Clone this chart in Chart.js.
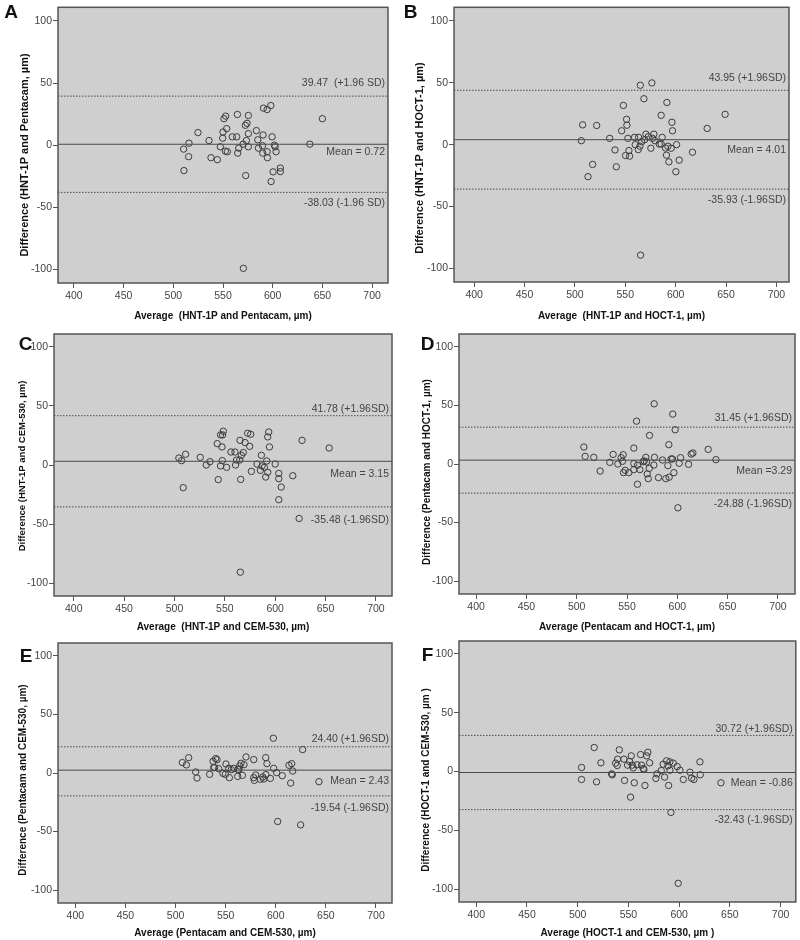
<!DOCTYPE html>
<html>
<head>
<meta charset="utf-8">
<script src="https://cdn.jsdelivr.net/npm/chart.js@4.4.1/dist/chart.umd.min.js"></script>
<style>
    body { margin: 0; background: #fff; width: 800px; height: 940px; position: relative; overflow: hidden; }
    .cell { position: absolute; }
    .cell canvas { display: block; }
</style>
</head>
<body>
<script>
const xTicks = [400, 450, 500, 550, 600, 650, 700];
const yTicks = [-100, -50, 0, 50, 100];

// A: HNT-1P vs Pentacam
const avgA = [510.4, 510.7, 515.4, 515.8, 524.8, 535.9, 537.9, 544.3, 547.3, 549.7,
    550.0, 551.0, 552.7, 553.7, 552.4, 554.4, 559.4, 563.8, 564.5, 564.8,
    565.8, 570.2, 572.5, 572.8, 573.5, 574.2, 575.5, 575.5, 575.5, 570.5,
    583.6, 585.0, 585.6, 589.7, 590.0, 590.3, 590.7, 594.4, 598.1, 594.4,
    594.7, 598.4, 599.4, 600.4, 601.7, 602.4, 603.4, 607.7, 607.7, 637.3, 650.0];
const diffA = [-3.2, -20.5, -9.3, 1.6, 10.1, 3.7, -10.1, -11.7, -1.3, 5.6,
    10.6, 21.3, 23.4, 13.3, -4.8, -5.3, 6.7, 6.7, 24.7, -6.4,
    -2.4, 0.8, 16.0, -24.5, 3.7, 17.6, 23.9, 9.3, -1.3, -99.2,
    11.7, 4.3, -2.4, -0.5, -6.4, 8.2, 29.8, 28.7, 31.9, -5.3,
    -10.1, -29.3, 6.7, -21.5, 0.0, -1.3, -5.3, -18.4, -21.3, 0.8, 21.3];
const levelsA = [0.72, 39.47, -38.03];
const notesA = ['Mean = 0.72', '39.47  (+1.96 SD)', '-38.03 (-1.96 SD)'];

// B: HNT-1P vs HOCT-1
const avgB = [506.4, 507.7, 513.0, 517.6, 521.6, 534.5, 539.8, 541.1, 546.4, 548.1,
    550.3, 551.3, 551.6, 552.6, 553.6, 554.3, 559.2, 559.9, 562.9, 563.2,
    564.5, 564.9, 566.2, 568.5, 569.2, 570.5, 572.8, 575.4, 576.4, 577.0,
    578.4, 579.4, 583.7, 585.6, 586.6, 589.9, 590.9, 591.3, 592.3, 593.3,
    596.3, 596.9, 595.6, 600.2, 600.9, 603.5, 616.7, 631.3, 649.1, 565.2, 585.6];
const diffB = [3.2, 16.0, -25.9, -16.0, 15.5, 5.1, -4.3, -17.9, 11.2, 31.7,
    -8.8, 20.5, 15.7, 5.1, -4.8, -9.3, 5.9, 0.0, -4.0, 5.9,
    -1.3, 48.0, 2.4, 37.1, 4.0, 8.5, 6.4, -2.9, 49.9, 5.1,
    8.5, 3.2, 0.5, 23.7, 5.9, -2.7, -8.5, 34.1, -1.3, -13.9,
    18.1, 11.2, -2.9, -21.9, 0.0, -12.5, -6.1, 13.1, 24.5, -89.3, 0.5];
const levelsB = [4.01, 43.95, -35.93];
const notesB = ['Mean = 4.01', '43.95 (+1.96SD)', '-35.93 (-1.96SD)'];

// C: HNT-1P vs CEM-530
const avgC = [504.4, 507.1, 511.1, 508.7, 525.6, 531.6, 535.3, 542.5, 543.5, 545.8,
    547.2, 547.8, 548.5, 545.8, 547.5, 551.8, 556.1, 560.1, 560.7, 561.7,
    565.1, 564.8, 565.8, 566.4, 568.4, 570.1, 572.7, 574.7, 575.7, 576.4,
    582.0, 586.3, 587.0, 585.3, 589.3, 590.6, 591.6, 592.6, 593.6, 594.3,
    592.6, 600.0, 603.6, 603.6, 603.6, 606.0, 617.5, 623.8, 626.7, 653.6, 565.4];
const diffC = [5.9, 3.7, 9.1, -19.2, 6.5, 0.0, 2.8, 18.1, -12.4, 25.5,
    15.3, 25.5, 28.6, -0.8, 3.7, -2.0, 11.0, 11.0, 0.0, 4.2,
    20.9, 4.2, -12.2, 8.2, 10.5, 19.0, 26.9, 15.8, 26.0, -5.4,
    0.8, 8.2, -0.8, -4.5, -2.0, -10.2, 3.4, 23.8, 28.0, 15.3,
    -6.2, 0.8, -7.1, -11.6, -29.4, -18.7, -9.1, -45.3, 20.9, 14.4, -90.8];
const levelsC = [3.15, 41.78, -35.48];
const notesC = ['Mean = 3.15', '41.78 (+1.96SD)', '-35.48 (-1.96SD)'];

// D: Pentacam vs HOCT-1
const avgD = [507.1, 508.4, 517.0, 523.3, 532.9, 536.2, 540.9, 544.2, 545.5, 546.2,
    546.5, 548.2, 551.8, 556.8, 556.8, 556.8, 559.5, 560.4, 560.4, 562.8,
    566.1, 568.7, 569.4, 570.1, 571.1, 572.1, 572.4, 576.7, 577.3, 577.0,
    581.3, 585.3, 588.6, 590.6, 591.6, 591.9, 593.9, 595.2, 595.5, 596.6,
    597.9, 600.6, 601.9, 603.2, 611.2, 613.8, 615.5, 630.7, 638.4, 567.1];
const diffD = [14.5, 6.5, 5.7, -6.0, 1.4, 8.2, 0.0, 5.4, 2.3, 7.9,
    -7.4, -5.4, -7.4, 13.6, 0.3, -4.8, 36.6, -1.1, -17.3, -4.8,
    2.0, 5.7, 1.7, -8.5, -12.5, -3.7, 24.4, -0.9, 5.7, 51.4,
    -11.6, 3.4, -12.5, -1.4, 16.5, -11.3, 4.3, 4.3, 42.6, -7.4,
    29.2, -37.4, 0.6, 5.4, -0.3, 8.5, 9.4, 12.5, 3.7, 2.6];
const levelsD = [3.29, 31.45, -24.88];
const notesD = ['Mean =3.29', '31.45 (+1.96SD)', '-24.88 (-1.96SD)'];

// E: Pentacam vs CEM-530
const avgE = [506.8, 510.8, 513.1, 520.1, 521.4, 534.0, 537.4, 538.0, 539.0, 540.0,
    541.4, 543.0, 547.3, 549.7, 550.3, 553.0, 553.7, 555.7, 558.0, 562.0,
    562.3, 563.3, 564.0, 565.3, 566.7, 568.3, 570.3, 578.0, 578.0, 578.6,
    580.0, 584.6, 587.0, 588.0, 590.0, 590.2, 591.2, 594.6, 597.6, 597.9,
    600.9, 601.9, 606.5, 613.2, 615.9, 614.9, 616.9, 624.8, 626.8, 643.1];
const diffE = [8.9, 6.9, 13.1, 0.9, -4.3, -1.1, 10.0, 4.6, 4.6, 12.3,
    11.4, 3.7, -0.3, -1.1, 7.7, 4.0, -4.0, 2.9, 4.0, -2.9,
    3.1, 2.9, 6.0, 8.3, -2.0, 7.1, 13.7, 11.4, -4.0, -6.3,
    -1.7, -5.4, -3.4, -5.1, 13.1, -1.4, 8.0, -4.6, 29.7, 4.0,
    0.3, -41.4, -2.3, 6.6, 8.0, -8.6, 1.7, -44.3, 20.0, -7.4];
const levelsE = [2.43, 22.4, -19.54];
const notesE = ['Mean = 2.43', '24.40 (+1.96SD)', '-19.54 (-1.96SD)'];

// F: HOCT-1 vs CEM-530
const avgF = [503.8, 503.8, 516.3, 518.6, 522.9, 533.4, 534.1, 537.4, 539.0, 539.3,
    541.0, 545.6, 546.2, 549.2, 551.2, 552.1, 552.8, 553.8, 554.8, 555.8,
    558.4, 562.0, 563.0, 564.6, 565.3, 566.3, 568.0, 569.2, 570.9, 577.1,
    578.1, 582.4, 584.3, 585.7, 587.6, 589.0, 589.6, 590.9, 590.9, 594.2,
    591.9, 598.1, 600.8, 599.1, 604.1, 610.6, 612.3, 614.6, 620.5, 620.8, 641.2];
const diffF = [3.4, -6.8, 20.4, -8.8, 7.4, -2.0, -2.8, 7.1, 5.1, 10.5,
    18.4, 10.5, -7.6, 5.4, 8.5, -21.8, 13.3, 5.4, 3.1, -9.6,
    5.7, 14.4, 5.4, 2.5, 1.7, -11.9, 13.3, 16.4, 7.4, -5.9,
    -2.0, 0.8, 6.2, -4.8, 9.1, 4.8, -11.9, 8.2, 1.1, 7.1,
    -34.8, 4.2, 1.1, -95.1, -6.8, -0.6, -5.7, -6.8, 8.2, -2.8, -9.6];
const levelsF = [-0.86, 30.72, -32.43];
const notesF = ['Mean = -0.86', '30.72 (+1.96SD)', '-32.43 (-1.96SD)'];

const FONT = '"Liberation Sans", Arial, sans-serif';

// page layout of each panel: cell box, chart area edges, axis ranges
const panels = [
    { letter: 'A', avg: avgA, diff: diffA, levels: levelsA, notes: notesA,
      xTitle: 'Average  (HNT-1P and Pentacam, µm)', yTitle: 'Difference (HNT-1P and Pentacam, µm)',
      cell: [0, 0, 400, 322], area: [58, 388, 3, 283], xRange: [384, 716],
      letterPos: [11, 13], yTitlePos: [25, 155], yTitleSize: 11, noteGap: [8, 13, 11] },
    { letter: 'B', avg: avgB, diff: diffB, levels: levelsB, notes: notesB,
      xTitle: 'Average  (HNT-1P and HOCT-1, µm)', yTitle: 'Difference (HNT-1P and HOCT-1, µm)',
      cell: [400, 0, 400, 322], area: [454, 789, 4, 282], xRange: [380, 712.5],
      letterPos: [10.5, 13], yTitlePos: [20, 158], yTitleSize: 11, noteGap: [10, 12, 11] },
    { letter: 'C', avg: avgC, diff: diffC, levels: levelsC, notes: notesC,
      xTitle: 'Average  (HNT-1P and CEM-530, µm)', yTitle: 'Difference (HNT-1P and CEM-530, µm)',
      cell: [0, 322, 400, 311], area: [54, 392, 334, 596], xRange: [380.4, 716],
      letterPos: [25.5, 23], yTitlePos: [22, 144], yTitleSize: 9.5, noteGap: [13, 7, 13] },
    { letter: 'D', avg: avgD, diff: diffD, levels: levelsD, notes: notesD,
      xTitle: 'Average (Pentacam and HOCT-1, µm)', yTitle: 'Difference (Pentacam and HOCT-1, µm)',
      cell: [400, 322, 400, 311], area: [459, 795, 334, 594], xRange: [383, 717],
      letterPos: [27.5, 23], yTitlePos: [27, 150], yTitleSize: 10, noteGap: [11, 9, 11] },
    { letter: 'E', avg: avgE, diff: diffE, levels: levelsE, notes: notesE,
      xTitle: 'Average (Pentacam and CEM-530, µm)', yTitle: 'Difference (Pentacam and CEM-530, µm)',
      cell: [0, 633, 400, 307], area: [58, 392, 643, 903], xRange: [382.7, 716],
      letterPos: [26, 24], yTitlePos: [23, 147], yTitleSize: 10, noteGap: [11, 8, 12] },
    { letter: 'F', avg: avgF, diff: diffF, levels: levelsF, notes: notesF,
      xTitle: 'Average (HOCT-1 and CEM-530, µm )', yTitle: 'Difference (HOCT-1 and CEM-530, µm )',
      cell: [400, 633, 400, 307], area: [459, 796, 641, 902], xRange: [383, 715],
      letterPos: [27.5, 22.5], yTitlePos: [26, 147], yTitleSize: 10, noteGap: [11, 6, 10] }
];

// background, frame, line notes, y title and panel letter
const panelDecor = {
    id: 'panelDecor',
    beforeDraw(chart, args, opts) {
        const { ctx, chartArea: a } = chart;
        ctx.save();
        ctx.fillStyle = '#cfcfcf';
        ctx.fillRect(a.left, a.top, a.right - a.left, a.bottom - a.top);
        ctx.restore();
    },
    afterDatasetsDraw(chart, args, opts) {
        const { ctx, chartArea: a, scales } = chart;
        ctx.save();
        ctx.strokeStyle = '#555';
        ctx.lineWidth = 1.5;
        ctx.strokeRect(a.left, a.top, a.right - a.left, a.bottom - a.top);

        ctx.fillStyle = '#444';
        ctx.font = '10.5px ' + FONT;
        ctx.textAlign = 'right';
        ctx.textBaseline = 'middle';
        const xr = a.right - 3;
        const [mean, upper, lower] = opts.levels;
        const [gMean, gUp, gLow] = opts.noteGap;
        ctx.fillText(opts.notes[0], xr, scales.y.getPixelForValue(mean) + gMean);
        ctx.fillText(opts.notes[1], xr, scales.y.getPixelForValue(upper) - gUp);
        ctx.fillText(opts.notes[2], xr, scales.y.getPixelForValue(lower) + gLow);
        ctx.restore();
    },
    afterDraw(chart, args, opts) {
        const { ctx } = chart;
        ctx.save();
        ctx.fillStyle = '#111';
        ctx.textAlign = 'center';
        ctx.textBaseline = 'middle';
        ctx.font = 'bold 19px ' + FONT;
        ctx.fillText(opts.letter, opts.letterPos[0], opts.letterPos[1]);

        ctx.translate(opts.yTitlePos[0], opts.yTitlePos[1]);
        ctx.rotate(-Math.PI / 2);
        ctx.font = 'bold ' + opts.yTitleSize + 'px ' + FONT;
        ctx.fillText(opts.yTitle, 0, 0);
        ctx.restore();
    }
};

function buildPanel(p) {
    const [cx, cy, cw, ch] = p.cell;
    const [l, r, t, b] = p.area;
    const div = document.createElement('div');
    div.className = 'cell';
    div.style.left = cx + 'px';
    div.style.top = cy + 'px';
    const canvas = document.createElement('canvas');
    canvas.width = cw;
    canvas.height = ch;
    div.appendChild(canvas);
    document.body.appendChild(div);

    const padBottom = cy + ch >= 940 ? 1 : 0;
    const yWidth = l - cx;
    const xHeight = cy + ch - padBottom - b;

    const points = p.avg.map((x, i) => ({ x: x, y: p.diff[i] }));
    const refLine = (v, dash) => ({
        type: 'line',
        data: [{ x: p.xRange[0], y: v }, { x: p.xRange[1], y: v }],
        borderColor: '#4a4a4a',
        borderWidth: 1,
        borderDash: dash,
        pointRadius: 0,
        fill: false
    });

    new Chart(canvas, {
        type: 'scatter',
        data: {
            datasets: [
                refLine(p.levels[0], []),
                refLine(p.levels[1], [1.5, 1.5]),
                refLine(p.levels[2], [1.5, 1.5]),
                {
                    data: points,
                    pointRadius: 3.2,
                    pointHoverRadius: 3.2,
                    pointBorderWidth: 1,
                    pointBorderColor: '#3c3c3c',
                    pointBackgroundColor: 'rgba(0,0,0,0)'
                }
            ]
        },
        options: {
            responsive: false,
            animation: false,
            events: [],
            layout: { padding: { left: 0, right: cx + cw - r, top: t - cy, bottom: padBottom } },
            plugins: {
                legend: { display: false },
                tooltip: { enabled: false },
                panelDecor: {
                    levels: p.levels, notes: p.notes, noteGap: p.noteGap, letter: p.letter, letterPos: p.letterPos,
                    yTitle: p.yTitle, yTitlePos: p.yTitlePos, yTitleSize: p.yTitleSize
                }
            },
            scales: {
                x: {
                    type: 'linear',
                    min: p.xRange[0],
                    max: p.xRange[1],
                    afterBuildTicks: s => { s.ticks = xTicks.map(v => ({ value: v })); },
                    afterFit: s => { s.height = xHeight; },
                    grid: { drawOnChartArea: false, drawTicks: true, tickLength: 5, color: '#555' },
                    border: { display: false },
                    ticks: { color: '#444', font: { family: FONT, size: 10.5 }, padding: 2, maxRotation: 0, autoSkip: false },
                    title: { display: true, text: p.xTitle, color: '#111', font: { family: FONT, size: 10, weight: 'bold' }, padding: 0 }
                },
                y: {
                    type: 'linear',
                    min: -111,
                    max: 111,
                    afterBuildTicks: s => { s.ticks = yTicks.map(v => ({ value: v })); },
                    afterFit: s => { s.width = yWidth; },
                    grid: { drawOnChartArea: false, drawTicks: true, tickLength: 5, color: '#555' },
                    border: { display: false },
                    ticks: { color: '#444', font: { family: FONT, size: 10.5 }, padding: 1 }
                }
            }
        },
        plugins: [panelDecor]
    });
}

panels.forEach(buildPanel);
</script>
</body>
</html>
